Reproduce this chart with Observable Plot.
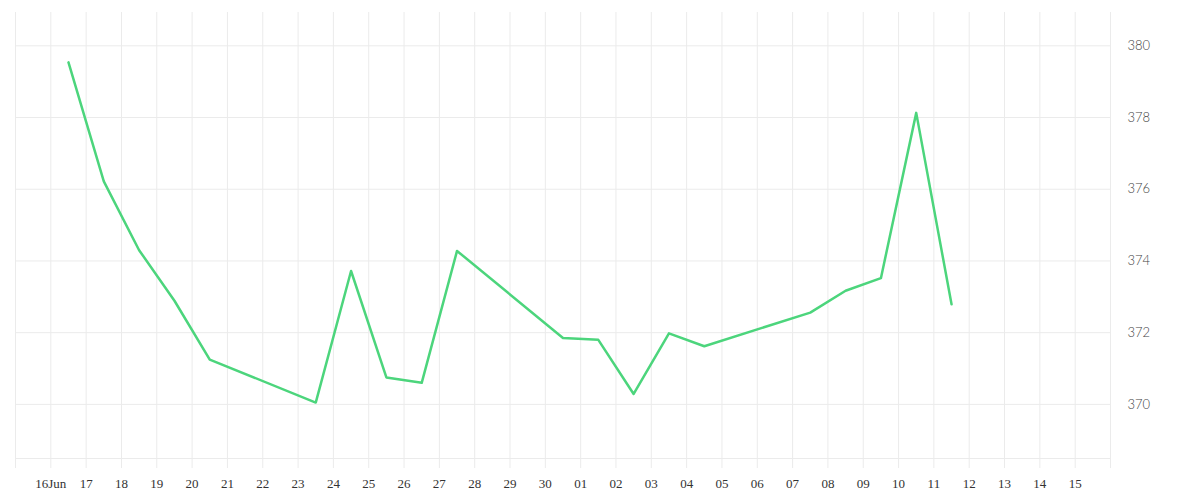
<!DOCTYPE html>
<html>
<head>
<meta charset="utf-8">
<script src="https://cdn.jsdelivr.net/npm/d3@7"></script>
<script src="https://cdn.jsdelivr.net/npm/@observablehq/plot@0.6"></script>
<style>
  html, body { margin: 0; padding: 0; background: #fff; }
  #chart svg { display: block; }
</style>
</head>
<body>
<div id="chart"></div>
<script>
const dates = [
  "2025-06-16", "2025-06-17", "2025-06-18", "2025-06-19", "2025-06-20",
  "2025-06-23", "2025-06-24", "2025-06-25", "2025-06-26", "2025-06-27",
  "2025-06-30", "2025-07-01", "2025-07-02", "2025-07-03", "2025-07-04",
  "2025-07-07", "2025-07-08", "2025-07-09", "2025-07-10", "2025-07-11"
];
const values = [
  379.54, 376.22, 374.30, 372.89, 371.25,
  370.05, 373.72, 370.75, 370.60, 374.28,
  371.85, 371.80, 370.29, 371.98, 371.62,
  372.56, 373.17, 373.52, 378.13, 372.79
];
const yTicks = [370, 372, 374, 376, 378, 380];
const xStart = "2025-06-15";
const xEnd = "2025-07-16";
const yDomain = [368.49, 380.93];

const parse = d3.utcParse("%Y-%m-%d");
const data = dates.map((d, i) => ({ date: d3.utcHour.offset(parse(d), 12), value: values[i] }));
const start = parse(xStart), end = parse(xEnd);
const dayTicks = d3.utcDay.range(start, d3.utcDay.offset(end, 1));
const labelTicks = dayTicks.slice(1, -1);
const fmtDay = d3.utcFormat("%d");
const fmtTick = (d) => (+d === +labelTicks[0] ? fmtDay(d) + d3.utcFormat("%b")(d) : fmtDay(d));

const chart = Plot.plot({
  width: 1200,
  height: 500,
  marginTop: 12,
  marginBottom: 42,
  marginLeft: 15,
  marginRight: 90,
  style: { background: "#fff" },
  x: { type: "utc", domain: [start, end] },
  y: { domain: yDomain },
  marks: [
    Plot.ruleX(dayTicks, { stroke: "#ebebeb", strokeWidth: 1, insetBottom: -10 }),
    Plot.ruleY(yTicks, { stroke: "#ebebeb", strokeWidth: 1 }),
    Plot.ruleY([yDomain[0]], { stroke: "#ebebeb", strokeWidth: 1 }),
    Plot.axisX({
      ticks: labelTicks, tickFormat: fmtTick, tickSize: 0, tickPadding: 20,
      label: null, fontFamily: "Liberation Serif", fontSize: 13, fill: "#333"
    }),
    Plot.axisY({
      anchor: "right", ticks: yTicks, tickSize: 0, tickPadding: 17,
      label: null, fontFamily: "Lato", fontWeight: 300, fontSize: 13, fill: "#444"
    }),
    Plot.lineY(data, { x: "date", y: "value", stroke: "#4cd57c", strokeWidth: 2.5, curve: "linear" })
  ]
});
document.getElementById("chart").appendChild(chart);
</script>
</body>
</html>
